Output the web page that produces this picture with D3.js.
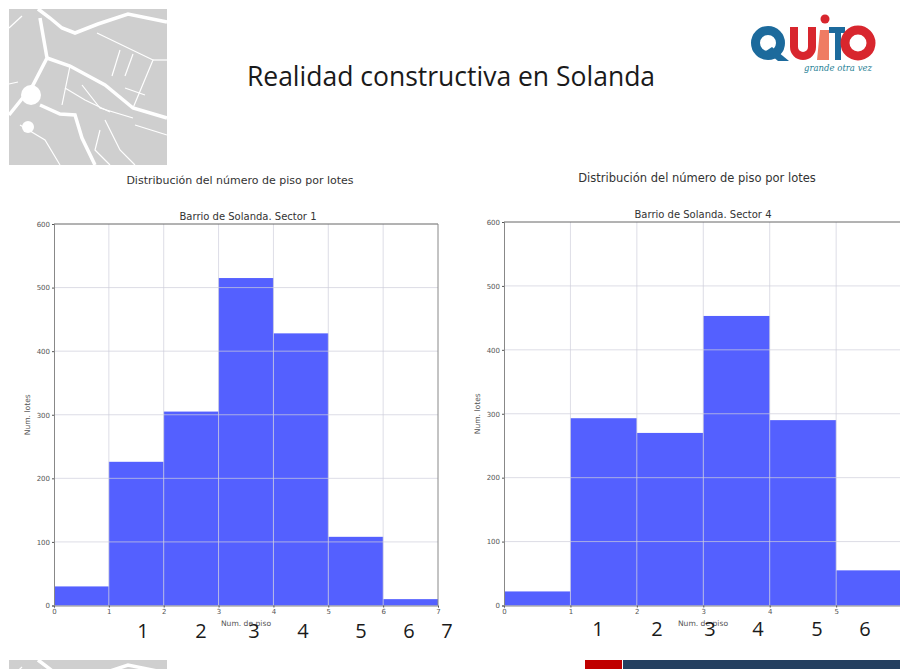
<!DOCTYPE html>
<html>
<head>
<meta charset="utf-8">
<script src="https://cdnjs.cloudflare.com/ajax/libs/d3/7.8.5/d3.min.js"></script>
<style>
  html, body { margin: 0; padding: 0; background: #fff; overflow: hidden; }
  svg { display: block; }
</style>
</head>
<body>
<div id="chart"></div>
<script>
const sector1Ticks = [0, 1, 2, 3, 4, 5, 6, 7];
const sector4Ticks = [0, 1, 2, 3, 4, 5];
const lotesTicks = [0, 100, 200, 300, 400, 500, 600];
const sector1Values = [30, 226, 305, 515, 428, 108, 10];
const sector4Values = [22, 293, 270, 453, 290, 55];
const sector1Labels = ["1", "2", "3", "4", "5", "6", "7"];
const sector4Labels = ["1", "2", "3", "4", "5", "6"];
const sector1LabelX = [143, 201, 254, 303, 361, 409, 447];
const sector4LabelX = [598, 657, 710, 758, 817, 865];

const sansFont = "'DejaVu Sans', sans-serif";
const slideFont = "'Open Sans', 'Noto Sans', sans-serif";

const svg = d3.select("#chart").append("svg")
  .attr("width", 900)
  .attr("height", 669)
  .attr("viewBox", "0 0 900 669");

const defs = svg.append("defs");
defs.append("filter").attr("id", "soft")
  .append("feGaussianBlur").attr("stdDeviation", 0.6);
defs.append("filter").attr("id", "softer")
  .append("feGaussianBlur").attr("stdDeviation", 0.35);

// rough street lines of the corner map, thick ones first
const mapRoadsThick = [
  [[38, 9], [50, 18], [62, 28], [75, 33], [98, 24], [128, 14], [167, 22]],
  [[40, 18], [47, 58], [33, 85], [9, 115]],
  [[47, 58], [70, 66], [105, 85], [133, 108], [167, 118]],
  [[40, 105], [60, 114], [75, 115], [82, 138], [95, 165]]
];
const mapRoadsThin = [
  [[97, 33], [153, 60], [133, 108]],
  [[120, 50], [112, 76]],
  [[133, 54], [125, 76]],
  [[82, 85], [100, 108], [133, 118]],
  [[70, 66], [62, 105]],
  [[153, 60], [167, 60]],
  [[9, 28], [22, 16]],
  [[9, 84], [18, 82]],
  [[65, 88], [85, 100], [110, 112]],
  [[105, 120], [120, 150], [135, 165]],
  [[100, 130], [95, 150], [110, 165]],
  [[20, 125], [45, 140], [60, 165]],
  [[125, 88], [145, 95]],
  [[135, 125], [167, 135]]
];

function drawMap(x, y, w, h) {
  const clipId = "map" + y;
  defs.append("clipPath").attr("id", clipId)
    .append("rect").attr("x", x).attr("y", y).attr("width", w).attr("height", h);
  const outer = svg.append("g").attr("clip-path", `url(#${clipId})`);
  const g = outer.append("g").attr("filter", "url(#soft)");
  g.append("rect").attr("x", x - 3).attr("y", y - 3).attr("width", w + 6).attr("height", h + 6).attr("fill", "#cfcfcf");
  const line = d3.line();
  const roads = g.append("g").attr("transform", `translate(0, ${y - 9})`).attr("fill", "none").attr("stroke", "#fff");
  roads.selectAll("path.thick").data(mapRoadsThick).enter().append("path")
    .attr("class", "thick").attr("d", line).attr("stroke-width", 3.5);
  roads.selectAll("path.thin").data(mapRoadsThin).enter().append("path")
    .attr("class", "thin").attr("d", line).attr("stroke-width", 1.2);
  roads.append("circle").attr("cx", 31).attr("cy", 95).attr("r", 10).attr("fill", "#fff").attr("stroke", "none");
  roads.append("circle").attr("cx", 28).attr("cy", 127).attr("r", 6).attr("fill", "#fff").attr("stroke", "none");
}

drawMap(9, 9, 158, 156);
drawMap(9, 660, 158, 156);

svg.append("text")
  .attr("x", 451).attr("y", 86)
  .attr("text-anchor", "middle")
  .style("font-family", slideFont)
  .style("font-size", "26.5px")
  .style("fill", "#1a1a1a")
  .text("Realidad constructiva en Solanda");

// Quito logo
const logo = svg.append("g").attr("filter", "url(#softer)");
const blue = "#1b6a9c", red = "#d8262e";
logo.append("circle").attr("cx", 768).attr("cy", 43).attr("r", 12.5).attr("fill", "none").attr("stroke", blue).attr("stroke-width", 9);
logo.append("path").attr("d", "M772 47 L789 61 L778 61 L766 51 Z").attr("fill", blue);
logo.append("path").attr("d", "M794 27 V47 A9 9 0 0 0 812 47 V27").attr("fill", "none").attr("stroke", red).attr("stroke-width", 8);
logo.append("path").attr("d", "M820 30 H829 V60 H817 Z").attr("fill", "#ef7b63");
logo.append("path").attr("d", "M829 27 H845 V33 H841 V60 H835 V33 H829 Z").attr("fill", blue);
logo.append("circle").attr("cx", 858).attr("cy", 43).attr("r", 13).attr("fill", "none").attr("stroke", red).attr("stroke-width", 9);
logo.append("circle").attr("cx", 825).attr("cy", 19).attr("r", 4.5).attr("fill", red);
svg.append("text").attr("x", 838).attr("y", 71)
  .attr("text-anchor", "middle")
  .style("font-family", "'DejaVu Serif', serif").style("font-style", "italic")
  .style("font-size", "8.5px").style("fill", "#1f7f96")
  .text("grande otra vez");

function drawHist(opts) {
  const x = d3.scaleLinear().domain([0, 7]).range([opts.left, opts.x7]);
  const y = d3.scaleLinear().domain([0, 600]).range([opts.bottom, opts.top]);
  const g = svg.append("g");
  const ink = "#555";

  svg.append("text")
    .attr("x", opts.headX).attr("y", opts.headY)
    .attr("text-anchor", "middle")
    .style("font-family", sansFont).style("font-size", opts.headSize).style("fill", "#333")
    .text("Distribución del número de piso por lotes");

  g.append("text")
    .attr("x", opts.titleX).attr("y", opts.top - 4)
    .attr("text-anchor", "middle")
    .style("font-family", sansFont).style("font-size", "10px").style("fill", "#333")
    .text(opts.title);

  // bars
  g.selectAll("rect.bar").data(opts.values).enter().append("rect")
    .attr("class", "bar")
    .attr("x", (d, i) => x(i))
    .attr("y", d => y(d))
    .attr("width", (d, i) => x(i + 1) - x(i))
    .attr("height", d => y(0) - y(d))
    .attr("fill", "#5460ff");

  // grid sits over the bars
  g.selectAll("line.gx").data(opts.ticks.filter(d => d > 0 && d < 7)).enter().append("line")
    .attr("class", "gx")
    .attr("x1", d => x(d)).attr("x2", d => x(d))
    .attr("y1", y(600)).attr("y2", y(0))
    .attr("stroke", "#cfcfdc").attr("stroke-opacity", 0.7);
  g.selectAll("line.gy").data(lotesTicks.slice(1, -1)).enter().append("line")
    .attr("class", "gy")
    .attr("x1", opts.left).attr("x2", x(7))
    .attr("y1", d => y(d)).attr("y2", d => y(d))
    .attr("stroke", "#cfcfdc").attr("stroke-opacity", 0.7);

  const xAxis = d3.axisBottom(x).tickValues(opts.ticks).tickFormat(d3.format("d")).tickSize(2).tickPadding(2);
  const yAxis = d3.axisLeft(y).tickValues(lotesTicks).tickFormat(d3.format("d")).tickSize(2).tickPadding(2);
  const xg = g.append("g").attr("transform", `translate(0, ${opts.bottom})`).call(xAxis);
  const yg = g.append("g").attr("transform", `translate(${opts.left}, 0)`).call(yAxis);
  xg.select(".domain").attr("stroke", "#888");
  yg.select(".domain").attr("stroke", "#888");
  [xg, yg].forEach(a => {
    a.selectAll("line").attr("stroke", ink);
    a.selectAll("text").style("font-family", sansFont).style("font-size", "7px").style("fill", ink);
  });

  // top and right frame
  g.append("line").attr("x1", opts.left).attr("x2", x(7)).attr("y1", y(600)).attr("y2", y(600)).attr("stroke", "#666");
  g.append("line").attr("x1", x(7)).attr("x2", x(7)).attr("y1", y(600)).attr("y2", y(0)).attr("stroke", "#888");

  g.append("text")
    .attr("x", opts.xLabelX).attr("y", 626)
    .attr("text-anchor", "middle")
    .style("font-family", sansFont).style("font-size", "7.6px").style("fill", ink)
    .text("Num. de piso");
  g.append("text")
    .attr("transform", `translate(${opts.left - 24}, ${(opts.top + opts.bottom) / 2}) rotate(-90)`)
    .attr("text-anchor", "middle")
    .style("font-family", sansFont).style("font-size", "7.6px").style("fill", ink)
    .text("Num. lotes");

  // numbers typed over the slide
  svg.selectAll(null).data(opts.slideLabels).enter().append("text")
    .attr("x", (d, i) => opts.slideLabelX[i])
    .attr("y", opts.slideY)
    .attr("text-anchor", "middle")
    .style("font-family", slideFont).style("font-size", "20px").style("fill", "#1a1a1a")
    .text(d => d);
}

drawHist({
  left: 54, x7: 438, top: 224, bottom: 605.5,
  headX: 240, headY: 184, headSize: "11px", ticks: sector1Ticks,
  title: "Barrio de Solanda. Sector 1", titleX: 248, xLabelX: 246,
  values: sector1Values, slideLabels: sector1Labels, slideLabelX: sector1LabelX, slideY: 638
});

drawHist({
  left: 504, x7: 969, top: 222, bottom: 605.5,
  headX: 697, headY: 182, headSize: "11.5px", ticks: sector4Ticks,
  title: "Barrio de Solanda. Sector 4", titleX: 703, xLabelX: 703,
  values: sector4Values, slideLabels: sector4Labels, slideLabelX: sector4LabelX, slideY: 636
});

// footer band
svg.append("rect").attr("x", 585).attr("y", 660).attr("width", 37).attr("height", 9).attr("fill", "#c00000");
svg.append("rect").attr("x", 623).attr("y", 660).attr("width", 277).attr("height", 9).attr("fill", "#243f60");
</script>
</body>
</html>
